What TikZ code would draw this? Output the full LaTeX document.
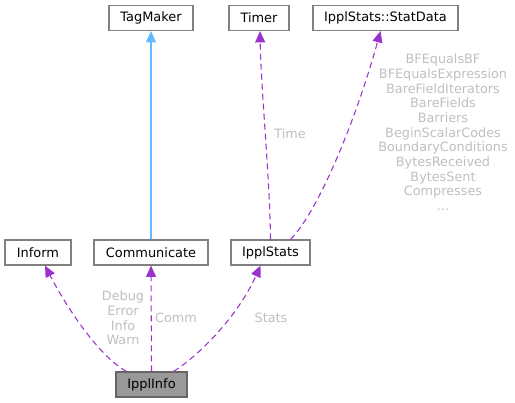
\documentclass[tikz,border=0pt]{standalone}
\usepackage{fontspec}
\setmainfont{DejaVu Sans}
\usetikzlibrary{arrows.meta,calc}
\definecolor{edgepurple}{HTML}{9A32CD}
\definecolor{edgeblue}{HTML}{63B8FF}
\definecolor{lblgray}{HTML}{BFBFBF}
\definecolor{boxgray}{HTML}{808080}
\tikzset{
  cls/.style={draw=boxgray, line width=0.9pt, fill=white, inner sep=0pt, minimum height=25*0.75pt, font=\fontsize{9.7}{11}\selectfont, text=black},
  usage/.style={draw=edgepurple, line width=0.8pt, dash pattern=on 4.5pt off 3pt, -{Triangle[length=8.5pt,width=7.5pt]}},
  inherit/.style={draw=edgeblue, line width=0.8pt, -{Triangle[length=8.5pt,width=7.5pt]}},
  lbl/.style={text=lblgray, font=\fontsize{9.6}{11}\selectfont, inner sep=0pt, align=center}
}
\begin{document}
\begin{tikzpicture}[x=0.75pt,y=-0.75pt]
\useasboundingbox (0,0) rectangle (515,403);
\node[cls, minimum width=84*0.75pt] (tag) at (151,18) {TagMaker};
\node[cls, minimum width=60*0.75pt] (timer) at (259,18) {Timer};
\node[cls, minimum width=145*0.75pt] (sd) at (385.5,18) {IpplStats::StatData};
\node[cls, minimum width=66*0.75pt] (inform) at (38,252.5) {Inform};
\node[cls, minimum width=114*0.75pt] (comm) at (151,252.5) {Communicate};
\node[cls, minimum width=79*0.75pt] (stats) at (270.5,252.5) {IpplStats};
\node[cls, minimum width=71*0.75pt, fill=black!40, draw=black!60] (ii) at (151.5,384.5) {IpplInfo};

\draw[inherit] (comm.north) -- (tag.south);
\draw[usage] ([shift={(-25,0)}]ii.north) .. controls (100,357) and (68,310) .. ([shift={(7,0)}]inform.south);
\draw[usage] (ii.north) -- (comm.south);
\draw[usage] ([shift={(22,0)}]ii.north) .. controls (197,357) and (237,318) .. ([shift={(-10,0)}]stats.south);
\draw[usage] ([shift={(0,0)}]stats.north) .. controls (270,180) and (261,90) .. ([shift={(1,0)}]timer.south);
\draw[usage] ([shift={(20,0)}]stats.north) .. controls (318,212) and (356,120) .. ([shift={(-5,0)}]sd.south);

\node[lbl] (lt) at (290,134) {Time};
\node[lbl, anchor=north] (lsd) at (443,54) {BFEqualsBF\\BFEqualsExpression\\BareFieldIterators\\BareFields\\Barriers\\BeginScalarCodes\\BoundaryConditions\\BytesReceived\\BytesSent\\Compresses\\...};
\node[lbl] (lin) at (123,318) {Debug\\Error\\Info\\Warn};
\node[lbl] (lc) at (176,318) {Comm};
\node[lbl] (ls) at (271,318) {Stats};
\end{tikzpicture}
\end{document}
